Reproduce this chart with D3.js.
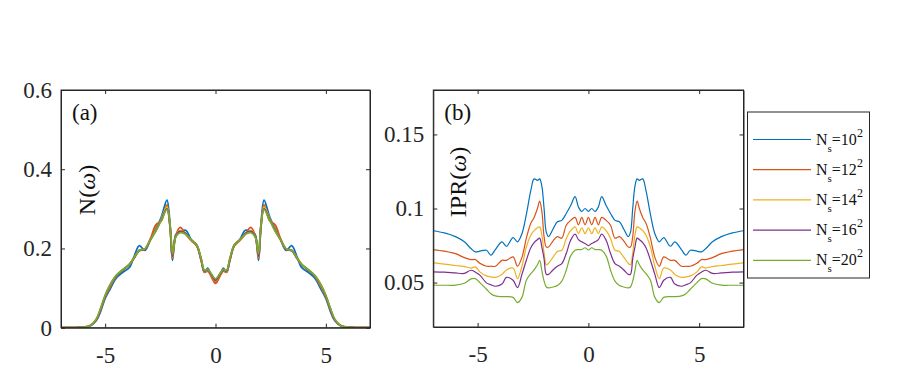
<!DOCTYPE html>
<html>
<head>
<meta charset="utf-8">
<script src="https://cdn.jsdelivr.net/npm/d3@7"></script>
<style>
  body { margin: 0; background: #fff; }
  svg { display: block; font-family: 'Liberation Serif', 'Times New Roman', serif; }
  .domain, .tick line { stroke: #262626; }
</style>
</head>
<body>
<div class="graph-container"></div>
<script>
// frequency grid of panel (a) and the density of states for each lattice size
var omegaA = [-7, -6.2, -5.7, -5.4, -5.2, -5.0, -4.8, -4.5, -4.2, -3.9, -3.7, -3.45, -3.2, -2.95, -2.7, -2.45, -2.2, -2.05, -1.95, -1.8, -1.6, -1.35, -1.1, -0.85, -0.65, -0.5, -0.35, -0.2,
  0,
  0.2, 0.35, 0.5, 0.65, 0.85, 1.1, 1.35, 1.6, 1.8, 1.95, 2.05, 2.2, 2.45, 2.7, 2.95, 3.2, 3.45, 3.7, 3.9, 4.2, 4.5, 4.8, 5.0, 5.2, 5.4, 5.7, 6.2, 7];

var dos10 = [0, 0.001, 0.004, 0.018, 0.042, 0.074, 0.095, 0.125, 0.14, 0.152, 0.178, 0.207, 0.195, 0.222, 0.25, 0.28, 0.322, 0.25, 0.17, 0.235, 0.243, 0.246, 0.222, 0.208, 0.17, 0.14, 0.15, 0.132,
  0.116,
  0.132, 0.15, 0.14, 0.17, 0.208, 0.222, 0.246, 0.243, 0.235, 0.17, 0.25, 0.322, 0.28, 0.25, 0.222, 0.195, 0.207, 0.178, 0.152, 0.14, 0.125, 0.095, 0.074, 0.042, 0.018, 0.004, 0.001, 0];
var dos12 = [0, 0.001, 0.005, 0.02, 0.046, 0.078, 0.1, 0.13, 0.145, 0.16, 0.175, 0.196, 0.198, 0.224, 0.26, 0.27, 0.31, 0.245, 0.175, 0.232, 0.253, 0.236, 0.22, 0.206, 0.17, 0.14, 0.143, 0.13,
  0.112,
  0.13, 0.143, 0.14, 0.17, 0.206, 0.22, 0.236, 0.253, 0.232, 0.175, 0.245, 0.31, 0.27, 0.26, 0.224, 0.198, 0.196, 0.175, 0.16, 0.145, 0.13, 0.1, 0.078, 0.046, 0.02, 0.005, 0.001, 0];
var dos14 = [0, 0.001, 0.005, 0.021, 0.048, 0.08, 0.104, 0.13, 0.146, 0.16, 0.176, 0.195, 0.198, 0.222, 0.247, 0.276, 0.305, 0.25, 0.178, 0.232, 0.245, 0.238, 0.221, 0.208, 0.172, 0.142, 0.145, 0.134,
  0.118,
  0.134, 0.145, 0.142, 0.172, 0.208, 0.221, 0.238, 0.245, 0.232, 0.178, 0.25, 0.305, 0.276, 0.247, 0.222, 0.198, 0.195, 0.176, 0.16, 0.146, 0.13, 0.104, 0.08, 0.048, 0.021, 0.005, 0.001, 0];
var dos16 = [0, 0.001, 0.004, 0.02, 0.048, 0.08, 0.105, 0.131, 0.146, 0.16, 0.175, 0.194, 0.198, 0.222, 0.245, 0.274, 0.3, 0.252, 0.18, 0.231, 0.243, 0.238, 0.222, 0.208, 0.173, 0.143, 0.146, 0.135,
  0.12,
  0.135, 0.146, 0.143, 0.173, 0.208, 0.222, 0.238, 0.243, 0.231, 0.18, 0.252, 0.3, 0.274, 0.245, 0.222, 0.198, 0.194, 0.175, 0.16, 0.146, 0.131, 0.105, 0.08, 0.048, 0.02, 0.004, 0.001, 0];
var dos20 = [0, 0.001, 0.004, 0.022, 0.05, 0.082, 0.106, 0.132, 0.147, 0.16, 0.176, 0.194, 0.199, 0.222, 0.244, 0.272, 0.298, 0.255, 0.186, 0.229, 0.24, 0.236, 0.222, 0.209, 0.175, 0.145, 0.147, 0.137,
  0.123,
  0.137, 0.147, 0.145, 0.175, 0.209, 0.222, 0.236, 0.24, 0.229, 0.186, 0.255, 0.298, 0.272, 0.244, 0.222, 0.199, 0.194, 0.176, 0.16, 0.147, 0.132, 0.106, 0.082, 0.05, 0.022, 0.004, 0.001, 0];

// frequency grid of panel (b) and the inverse participation ratio
var omegaB = [-7, -6.5, -6, -5.6, -5.3, -5.1, -4.9, -4.6, -4.4, -4.2, -3.9, -3.7, -3.4, -3.2, -3.0, -2.8, -2.6, -2.45, -2.3, -2.2, -2.1, -2.0, -1.9, -1.8, -1.6, -1.4, -1.2, -1.0, -0.8, -0.6, -0.45, -0.3, -0.15,
  0,
  0.15, 0.3, 0.45, 0.6, 0.8, 1.0, 1.2, 1.4, 1.6, 1.8, 1.9, 2.0, 2.1, 2.2, 2.3, 2.45, 2.6, 2.8, 3.0, 3.2, 3.4, 3.7, 3.9, 4.2, 4.4, 4.6, 4.9, 5.1, 5.3, 5.6, 6, 6.5, 7];

var ipr10 = [0.085, 0.0835, 0.081, 0.0775, 0.073, 0.0707, 0.0712, 0.0718, 0.0685, 0.0723, 0.0775, 0.0745, 0.0804, 0.0775, 0.083, 0.096, 0.112, 0.120, 0.119, 0.120, 0.115, 0.100, 0.084, 0.081, 0.086, 0.091, 0.092, 0.0966, 0.102, 0.108, 0.101, 0.098, 0.100,
  0.098,
  0.100, 0.098, 0.101, 0.108, 0.102, 0.0966, 0.092, 0.091, 0.086, 0.081, 0.084, 0.100, 0.115, 0.120, 0.119, 0.120, 0.112, 0.096, 0.083, 0.0775, 0.0804, 0.0745, 0.0775, 0.0723, 0.0685, 0.0718, 0.0712, 0.0707, 0.073, 0.0775, 0.081, 0.0835, 0.085];
var ipr12 = [0.0723, 0.0712, 0.0695, 0.0668, 0.0655, 0.0655, 0.063, 0.061, 0.061, 0.061, 0.065, 0.065, 0.0673, 0.061, 0.067, 0.080, 0.090, 0.094, 0.100, 0.105, 0.098, 0.081, 0.074, 0.074, 0.078, 0.081, 0.080, 0.0887, 0.092, 0.094, 0.089, 0.094, 0.089,
  0.094,
  0.089, 0.094, 0.089, 0.094, 0.092, 0.0887, 0.080, 0.081, 0.078, 0.074, 0.074, 0.081, 0.098, 0.105, 0.100, 0.094, 0.090, 0.080, 0.067, 0.061, 0.0673, 0.065, 0.065, 0.061, 0.061, 0.061, 0.063, 0.0655, 0.0655, 0.0668, 0.0695, 0.0712, 0.0723];
var ipr14 = [0.0633, 0.0625, 0.0615, 0.0608, 0.0598, 0.0606, 0.0572, 0.0545, 0.0538, 0.0535, 0.0555, 0.0585, 0.0598, 0.0527, 0.061, 0.074, 0.082, 0.085, 0.087, 0.0876, 0.082, 0.070, 0.062, 0.063, 0.067, 0.071, 0.0718, 0.0797, 0.085, 0.0876, 0.083, 0.087, 0.083,
  0.087,
  0.083, 0.087, 0.083, 0.0876, 0.085, 0.0797, 0.0718, 0.071, 0.067, 0.063, 0.062, 0.070, 0.082, 0.0876, 0.087, 0.085, 0.082, 0.074, 0.061, 0.0527, 0.0598, 0.0585, 0.0555, 0.0535, 0.0538, 0.0545, 0.0572, 0.0606, 0.0598, 0.0608, 0.0615, 0.0625, 0.0633];
var ipr16 = [0.0572, 0.057, 0.0565, 0.0562, 0.0583, 0.057, 0.055, 0.0498, 0.0485, 0.0475, 0.049, 0.0535, 0.0516, 0.0466, 0.0555, 0.0651, 0.0735, 0.077, 0.079, 0.080, 0.074, 0.066, 0.0556, 0.0555, 0.0585, 0.061, 0.0628, 0.0696, 0.0786, 0.0827, 0.079, 0.0775, 0.0764,
  0.075,
  0.0764, 0.0775, 0.079, 0.0827, 0.0786, 0.0696, 0.0628, 0.061, 0.0585, 0.0555, 0.0556, 0.066, 0.074, 0.080, 0.079, 0.077, 0.0735, 0.0651, 0.0555, 0.0466, 0.0516, 0.0535, 0.049, 0.0475, 0.0485, 0.0498, 0.055, 0.057, 0.0583, 0.0562, 0.0565, 0.057, 0.0572];
var ipr20 = [0.0482, 0.0482, 0.0483, 0.0495, 0.0525, 0.0527, 0.050, 0.0455, 0.0425, 0.041, 0.0405, 0.0405, 0.040, 0.0365, 0.040, 0.0516, 0.056, 0.0585, 0.062, 0.065, 0.058, 0.051, 0.047, 0.0464, 0.047, 0.048, 0.051, 0.0583, 0.068, 0.0718, 0.0723, 0.0723, 0.0735,
  0.072,
  0.0735, 0.0723, 0.0723, 0.0718, 0.068, 0.0583, 0.051, 0.048, 0.047, 0.0464, 0.047, 0.051, 0.058, 0.065, 0.062, 0.0585, 0.056, 0.0516, 0.040, 0.0365, 0.040, 0.0405, 0.0405, 0.041, 0.0425, 0.0455, 0.050, 0.0527, 0.0525, 0.0495, 0.0483, 0.0482, 0.0482];

// legend entries (lattice side), ticks
var sizes = ['10', '12', '14', '16', '20'];
var xTicks = [-5, 0, 5];
var yTicksA = [0, 0.2, 0.4, 0.6];
var yTicksB = [0.05, 0.1, 0.15];

var colors = ['#0072BD', '#D95319', '#EDB120', '#7E2F8E', '#77AC30'];

var serif = "'Liberation Serif', 'Times New Roman', serif";
var svgWidth = 913;
var svgHeight = 375;
var tickLen = 4;

var svg = d3.select('.graph-container').append('svg')
  .attr('width', svgWidth)
  .attr('height', svgHeight);

// d3 axes default to sans-serif, so reset family and size on each axis group
function styleAxis(sel) {
  sel.attr('font-family', serif).attr('font-size', 23);
  sel.selectAll('text').attr('fill', '#262626');
}

function drawPanel(opts) {
  var xScale = d3.scaleLinear().domain([-7, 7]).range([opts.left, opts.right]);
  var yScale = d3.scaleLinear().domain(opts.yDomain).range([opts.bottom, opts.top]);

  var g = svg.append('g');

  // clip so curves stay inside the box
  g.append('clipPath').attr('id', opts.id + '-clip')
    .append('rect')
    .attr('x', opts.left).attr('y', opts.top)
    .attr('width', opts.right - opts.left).attr('height', opts.bottom - opts.top);

  var line = d3.line()
    .x(function(d) { return xScale(d[0]); })
    .y(function(d) { return yScale(d[1]); })
    .curve(d3.curveCatmullRom.alpha(0.5));

  opts.series.forEach(function(values, i) {
    var pts = opts.omega.map(function(w, j) { return [w, values[j]]; });
    g.append('path')
      .attr('clip-path', 'url(#' + opts.id + '-clip)')
      .attr('d', line(pts))
      .attr('fill', 'none')
      .attr('stroke', colors[i])
      .attr('stroke-width', opts.lineWidth);
  });

  // bottom and left axes with labels, ticks pointing inwards
  g.append('g')
    .attr('transform', 'translate(0,' + opts.bottom + ')')
    .call(d3.axisBottom(xScale).tickValues(xTicks).tickSize(-tickLen).tickSizeOuter(0).tickPadding(19)
      .tickFormat(function(d) { return d < 0 ? '-' + Math.abs(d) : d; }))
    .call(styleAxis);

  g.append('g')
    .attr('transform', 'translate(' + opts.left + ',0)')
    .call(d3.axisLeft(yScale).tickValues(opts.yTicks).tickSize(-tickLen).tickSizeOuter(0).tickPadding(9)
      .tickFormat(function(d) { return d3.format('')(+d.toFixed(2)); }))
    .call(styleAxis);

  // top and right ticks without labels
  g.append('g')
    .attr('transform', 'translate(0,' + opts.top + ')')
    .call(d3.axisTop(xScale).tickValues(xTicks).tickSize(-tickLen).tickSizeOuter(0).tickFormat(''));

  g.append('g')
    .attr('transform', 'translate(' + opts.right + ',0)')
    .call(d3.axisRight(yScale).tickValues(opts.yTicks).tickSize(-tickLen).tickSizeOuter(0).tickFormat(''));

  g.append('rect')
    .attr('x', opts.left).attr('y', opts.top)
    .attr('width', opts.right - opts.left).attr('height', opts.bottom - opts.top)
    .attr('fill', 'none')
    .attr('stroke', '#262626')
    .attr('stroke-width', 1);

  // panel letter
  g.append('text')
    .attr('x', opts.left + 11)
    .attr('y', opts.top + 30)
    .style('font-size', '23px')
    .attr('fill', '#111')
    .text(opts.letter);

  // rotated y label
  var lab = g.append('text')
    .attr('transform', 'translate(' + opts.labelX + ',' + opts.labelY + ') rotate(-90)')
    .style('text-anchor', 'middle')
    .style('font-size', '24px')
    .attr('fill', '#111');
  lab.append('tspan').text(opts.yLabel + '(');
  lab.append('tspan').style('font-style', 'italic').text('\u03c9');
  lab.append('tspan').text(')');
}

drawPanel({
  id: 'a', left: 61, right: 370, top: 90, bottom: 327.7,
  yDomain: [0, 0.6], yTicks: yTicksA,
  omega: omegaA, series: [dos10, dos12, dos14, dos16, dos20],
  lineWidth: 1.8, letter: '(a)', yLabel: 'N', labelX: 95, labelY: 190
});

drawPanel({
  id: 'b', left: 433.3, right: 743.5, top: 90, bottom: 327,
  yDomain: [0.02, 0.18], yTicks: yTicksB,
  omega: omegaB, series: [ipr10, ipr12, ipr14, ipr16, ipr20],
  lineWidth: 1.2, letter: '(b)', yLabel: 'IPR', labelX: 466, labelY: 182
});

// legend box
var legend = svg.append('g');
legend.append('rect')
  .attr('x', 747.5).attr('y', 112)
  .attr('width', 122).attr('height', 166)
  .attr('fill', '#fff')
  .attr('stroke', '#262626')
  .attr('stroke-width', 1);

sizes.forEach(function(s, i) {
  var y = 139.5 + i * 30.2;
  legend.append('line')
    .attr('x1', 753).attr('x2', 811)
    .attr('y1', y).attr('y2', y)
    .attr('stroke', colors[i])
    .attr('stroke-width', 1.2);
  var t = legend.append('text')
    .attr('x', 816).attr('y', y + 5)
    .style('font-size', '16px')
    .attr('fill', '#111');
  t.append('tspan').text('N');
  t.append('tspan').attr('dy', 7).style('font-size', '11px').text('s');
  t.append('tspan').attr('dy', -7).text('=' + s);
  t.append('tspan').attr('dy', -8).style('font-size', '12px').text('2');
});
</script>
</body>
</html>
